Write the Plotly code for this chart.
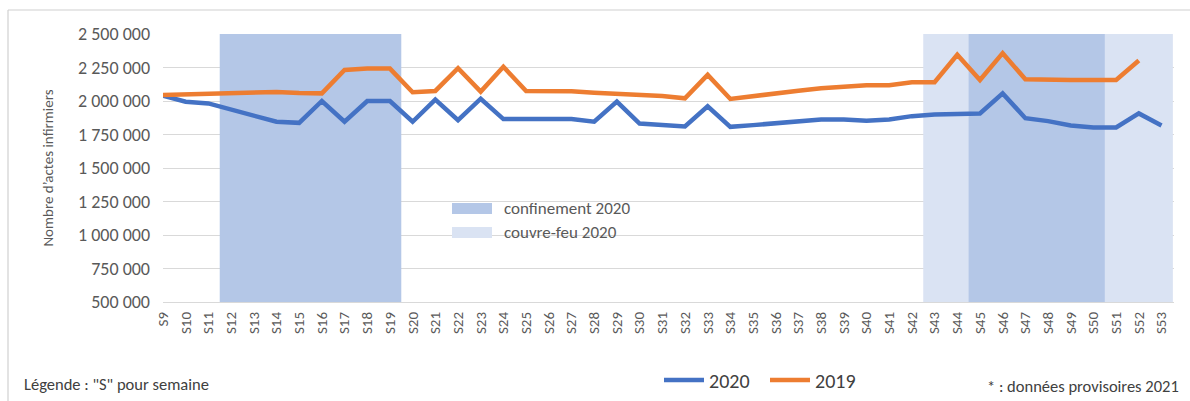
import plotly.graph_objects as go

# ---- data ----
weeks = ["S" + str(w) for w in range(9, 54)]

actes_2020 = [2040000, 1995000, 1982000, 1937000, 1887000, 1845000, 1837000, 2000000,
              1845000, 2000000, 2000000, 1845000, 2010000, 1857000, 2017000, 1865000,
              1865000, 1865000, 1865000, 1845000, 1995000, 1832000, 1825000, 1810000,
              1960000, 1807000, 1820000, 1832000, 1850000, 1862000, 1862000, 1852000,
              1862000, 1887000, 1900000, 1900000, 1907000, 2057000, 1872000, 1850000,
              1817000, 1802000, 1802000, 1907000, 1817000]

actes_2019 = [2045000, 2050000, 2057000, 2057000, 2062000, 2067000, 2060000, 2057000,
              2232000, 2242000, 2242000, 2065000, 2075000, 2245000, 2070000, 2255000,
              2075000, 2075000, 2072000, 2062000, 2055000, 2047000, 2037000, 2020000,
              2195000, 2015000, 2037000, 2062000, 2077000, 2095000, 2107000, 2117000,
              2117000, 2140000, 2140000, 2345000, 2157000, 2357000, 2162000, 2157000,
              2157000, 2157000, 2157000, 2302000, None]

confinement_periods = [("S12", "S19"), ("S45", "S50")]
couvre_feu_periods = [("S43", "S53")]

y_ticks = list(range(500000, 2500001, 250000))

# ---- style ----
FONT = "Calibri, Carlito, Liberation Sans, Arial, sans-serif"
GRAY = "#595959"
DARK = "#404040"
BLUE = "#4472C4"
ORANGE = "#ED7D31"
CONF_COL = "#B4C7E7"
CF_COL = "#DAE3F3"

W, H = 1190, 401
L, R, T, B = 163, 16, 34, 99
pw = W - L - R
ph = H - T - B


def px_x(x):
    return (x - L) / pw


def px_y(y):
    return (H - B - y) / ph


fig = go.Figure()

fig.add_trace(go.Scatter(x=weeks, y=actes_2020, mode="lines", name="2020",
                         line=dict(color=BLUE, width=4.5)))
fig.add_trace(go.Scatter(x=weeks, y=actes_2019, mode="lines", name="2019",
                         line=dict(color=ORANGE, width=4.5)))

shapes = []
for a, b in couvre_feu_periods:
    shapes.append(dict(type="rect", xref="x", yref="y",
                       x0=weeks.index(a) - 0.5, x1=weeks.index(b) + 0.5,
                       y0=y_ticks[0], y1=y_ticks[-1], fillcolor=CF_COL,
                       line=dict(width=0), layer="between"))
for a, b in confinement_periods:
    shapes.append(dict(type="rect", xref="x", yref="y",
                       x0=weeks.index(a) - 0.5, x1=weeks.index(b) + 0.5,
                       y0=y_ticks[0], y1=y_ticks[-1], fillcolor=CONF_COL,
                       line=dict(width=0), layer="between"))

# in-chart legend swatches for the shaded periods
shade_legend = [("confinement 2020", CONF_COL, 208.5), ("couvre-feu 2020", CF_COL, 232.5)]
annotations = []
for label, col, yc in shade_legend:
    shapes.append(dict(type="rect", xref="paper", yref="paper",
                       x0=px_x(452), x1=px_x(492), y0=px_y(yc + 5.5), y1=px_y(yc - 5.5),
                       fillcolor=col, line=dict(width=0), layer="above"))
    annotations.append(dict(text=label, xref="paper", yref="paper",
                            x=px_x(502), y=px_y(yc), xanchor="left", yanchor="middle",
                            showarrow=False, font=dict(family=FONT, size=17, color=GRAY)))

# outer frame lines (top and left)
shapes.append(dict(type="line", xref="paper", yref="paper",
                   x0=px_x(8), x1=px_x(1190), y0=px_y(10), y1=px_y(10),
                   line=dict(color="#D0D0D0", width=1.2)))
shapes.append(dict(type="line", xref="paper", yref="paper",
                   x0=px_x(8), x1=px_x(8), y0=px_y(10), y1=px_y(401),
                   line=dict(color="#D0D0D0", width=1.2)))

annotations += [
    dict(text='Légende : "S" pour semaine', xref="paper", yref="paper",
         x=px_x(22), y=px_y(384), xanchor="left", yanchor="middle",
         showarrow=False, font=dict(family=FONT, size=16.5, color=DARK)),
    dict(text="* : données provisoires 2021", xref="paper", yref="paper",
         x=px_x(1181), y=px_y(386), xanchor="right", yanchor="middle",
         showarrow=False, font=dict(family=FONT, size=16.5, color=DARK)),
]

fig.update_layout(
    width=W, height=H, autosize=False,
    margin=dict(l=L, r=R, t=T, b=B, pad=0),
    paper_bgcolor="white", plot_bgcolor="white",
    separators=", ",
    font=dict(family=FONT, color=GRAY, size=13),
    shapes=shapes,
    annotations=annotations,
    showlegend=True,
    legend=dict(orientation="h", xref="container", yref="container",
                x=659 / W, xanchor="left",
                y=1 - 380 / H, yanchor="middle",
                font=dict(family=FONT, size=20, color=DARK),
                bgcolor="rgba(0,0,0,0)", itemwidth=40, traceorder="normal",
                entrywidth=51, entrywidthmode="pixels"),
)

fig.update_xaxes(type="category", range=[0, 44.55], tickangle=-90,
                 tickfont=dict(size=15, color=GRAY), showgrid=False,
                 showline=True, linecolor="#D9D9D9", linewidth=1,
                 ticks="", ticklabelstandoff=3, zeroline=False, fixedrange=True,
                 automargin=False)
fig.update_yaxes(range=[y_ticks[0], y_ticks[-1]], tickvals=y_ticks,
                 tickformat=",d", tickfont=dict(size=18, color=GRAY),
                 showgrid=True, gridcolor="#D9D9D9", gridwidth=1,
                 zeroline=False, showline=False, ticks="",
                 ticklabelstandoff=12, automargin=False,
                 title=dict(text="Nombre d\u2019actes infirmiers",
                            font=dict(size=15, color=GRAY), standoff=20))

fig.write_html("out.html", config={"displayModeBar": False},
               post_script="document.body.style.margin='0';document.body.style.overflow='hidden';")
